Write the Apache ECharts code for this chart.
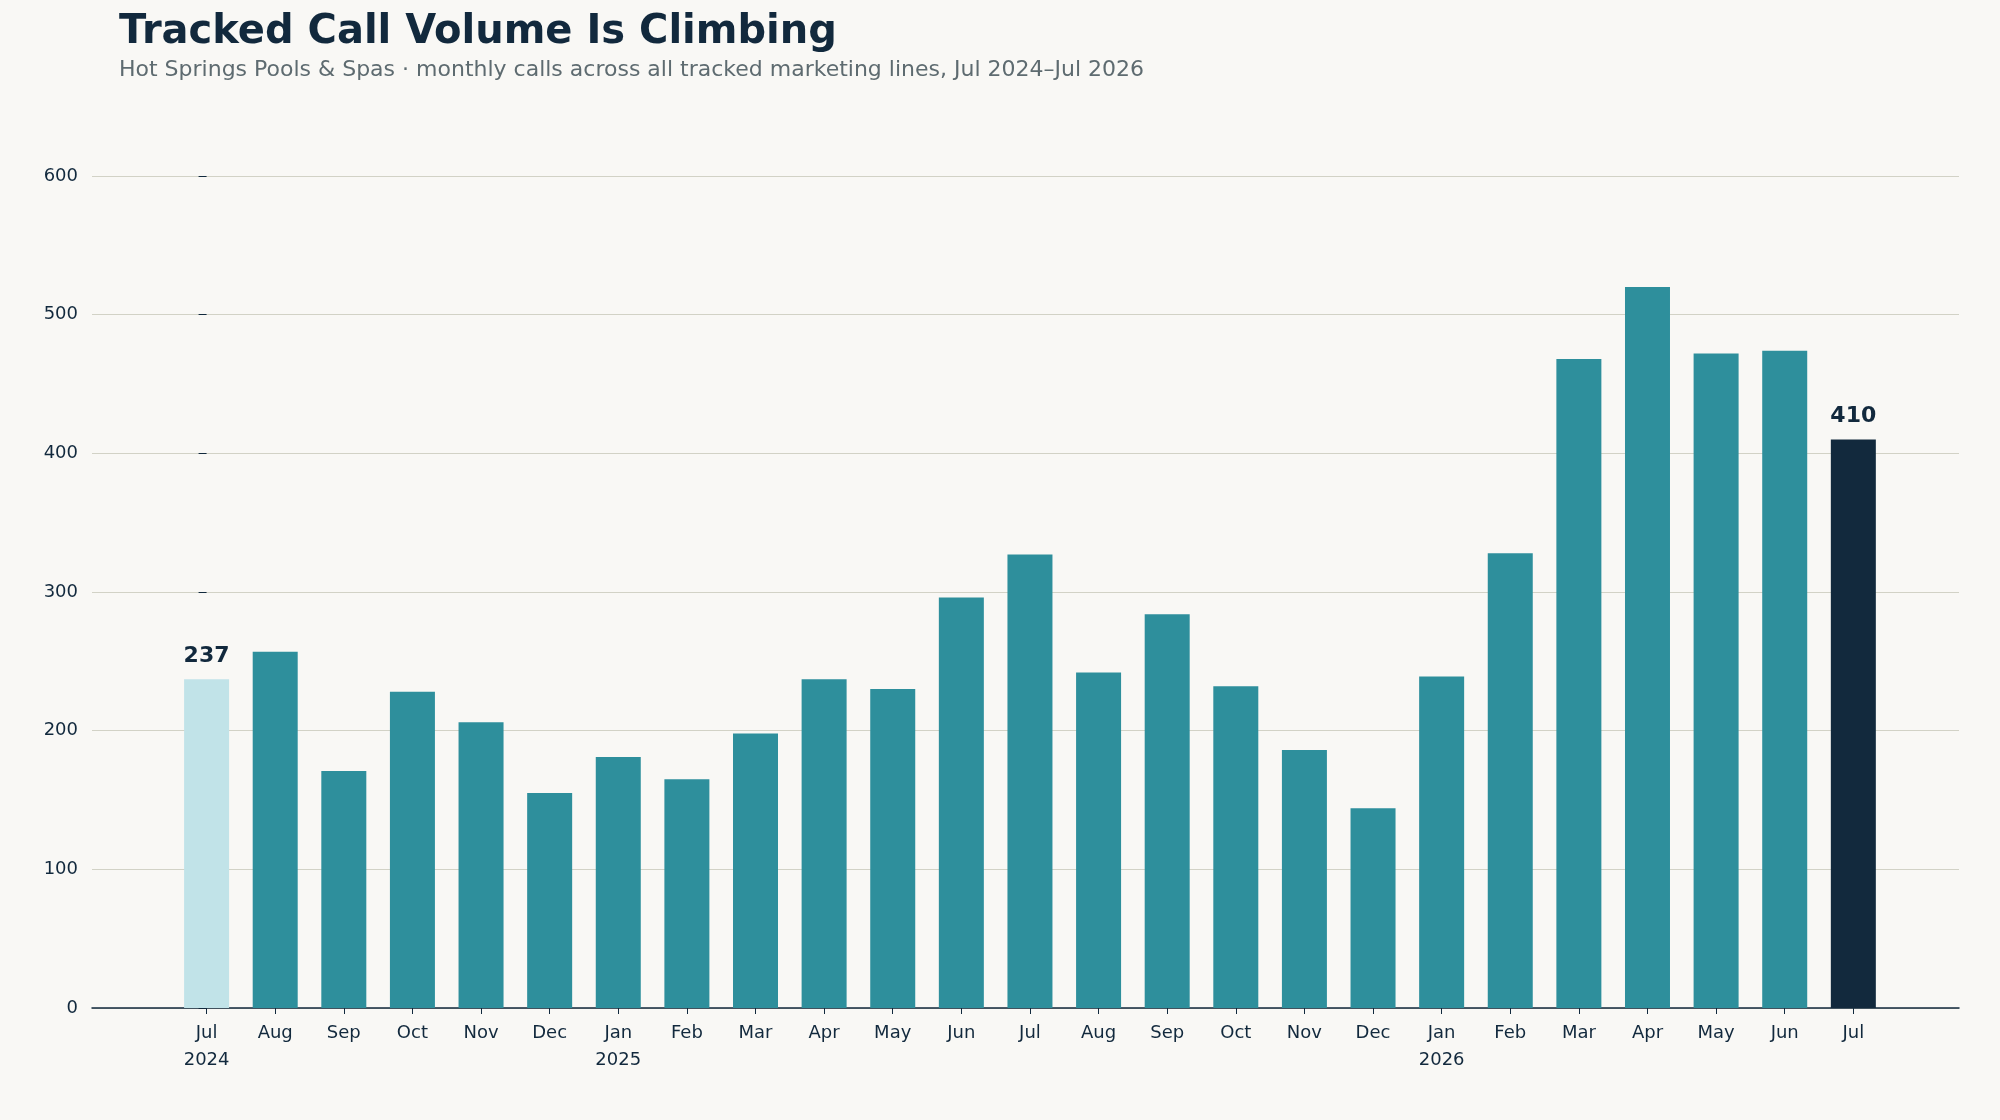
<!DOCTYPE html><html><head><meta charset="utf-8">
<script src="https://cdn.jsdelivr.net/npm/echarts@6/dist/echarts.min.js"></script>
<style>html,body{margin:0;background:#F9F8F5}#c{width:2000px;height:1120px}</style></head><body><div id="c"></div>
<script>
const labels=["Jul\n2024","Aug","Sep","Oct","Nov","Dec","Jan\n2025","Feb","Mar","Apr","May","Jun","Jul","Aug","Sep","Oct","Nov","Dec","Jan\n2026","Feb","Mar","Apr","May","Jun","Jul"];
const calls=[237,257,171,228,206,155,181,165,198,237,230,296,327,242,284,232,186,144,239,328,468,520,472,474,410];
const yTicks=[0,100,200,300,400,500,600];
const last=calls.length-1;
const data=calls.map((v,i)=>({value:[i,v],
 itemStyle:{color:i===0?'#C1E3E8':(i===last?'#12293D':'#2E8F9C')},
 label:{show:i===0||i===last}}));
const c=echarts.init(document.getElementById('c'));
c.setOption({backgroundColor:'#F9F8F5',animation:false,
 textStyle:{fontFamily:'DejaVu Sans'},
 title:{text:'Tracked Call Volume Is Climbing',subtext:'Hot Springs Pools & Spas · monthly calls across all tracked marketing lines, Jul 2024–Jul 2026',
  left:114,top:8,itemGap:6,
  textStyle:{fontSize:40,fontWeight:'bold',color:'#12293D',fontFamily:'DejaVu Sans'},
  subtextStyle:{fontSize:22,color:'#5E6B70',fontFamily:'DejaVu Sans'}},
 grid:{left:92,right:41,top:176,bottom:112},
 xAxis:{type:'value',min:-1.67,max:25.54,splitLine:{show:false},
  axisLine:{show:true,lineStyle:{color:'#12293D',width:1.5}},
  axisTick:{show:true,customValues:calls.map((v,i)=>i),length:6,lineStyle:{color:'#12293D'}},
  axisLabel:{customValues:calls.map((v,i)=>i),formatter:v=>labels[Math.round(v)],color:'#12293D',fontSize:18,lineHeight:27,margin:12}},
 yAxis:{type:'value',min:0,max:600,interval:100,
  axisLine:{show:false},axisTick:{show:true,length:8,lineStyle:{color:'#12293D'}},
  axisLabel:{color:'#12293D',fontSize:18,margin:14},
  splitLine:{lineStyle:{color:'#D2D2C6',width:1.2}}},
 series:[{type:'bar',barWidth:45,data:data,
  label:{position:'top',color:'#12293D',fontSize:22,fontWeight:'bold',formatter:p=>p.value[1],distance:12}}]});
</script></body></html>
